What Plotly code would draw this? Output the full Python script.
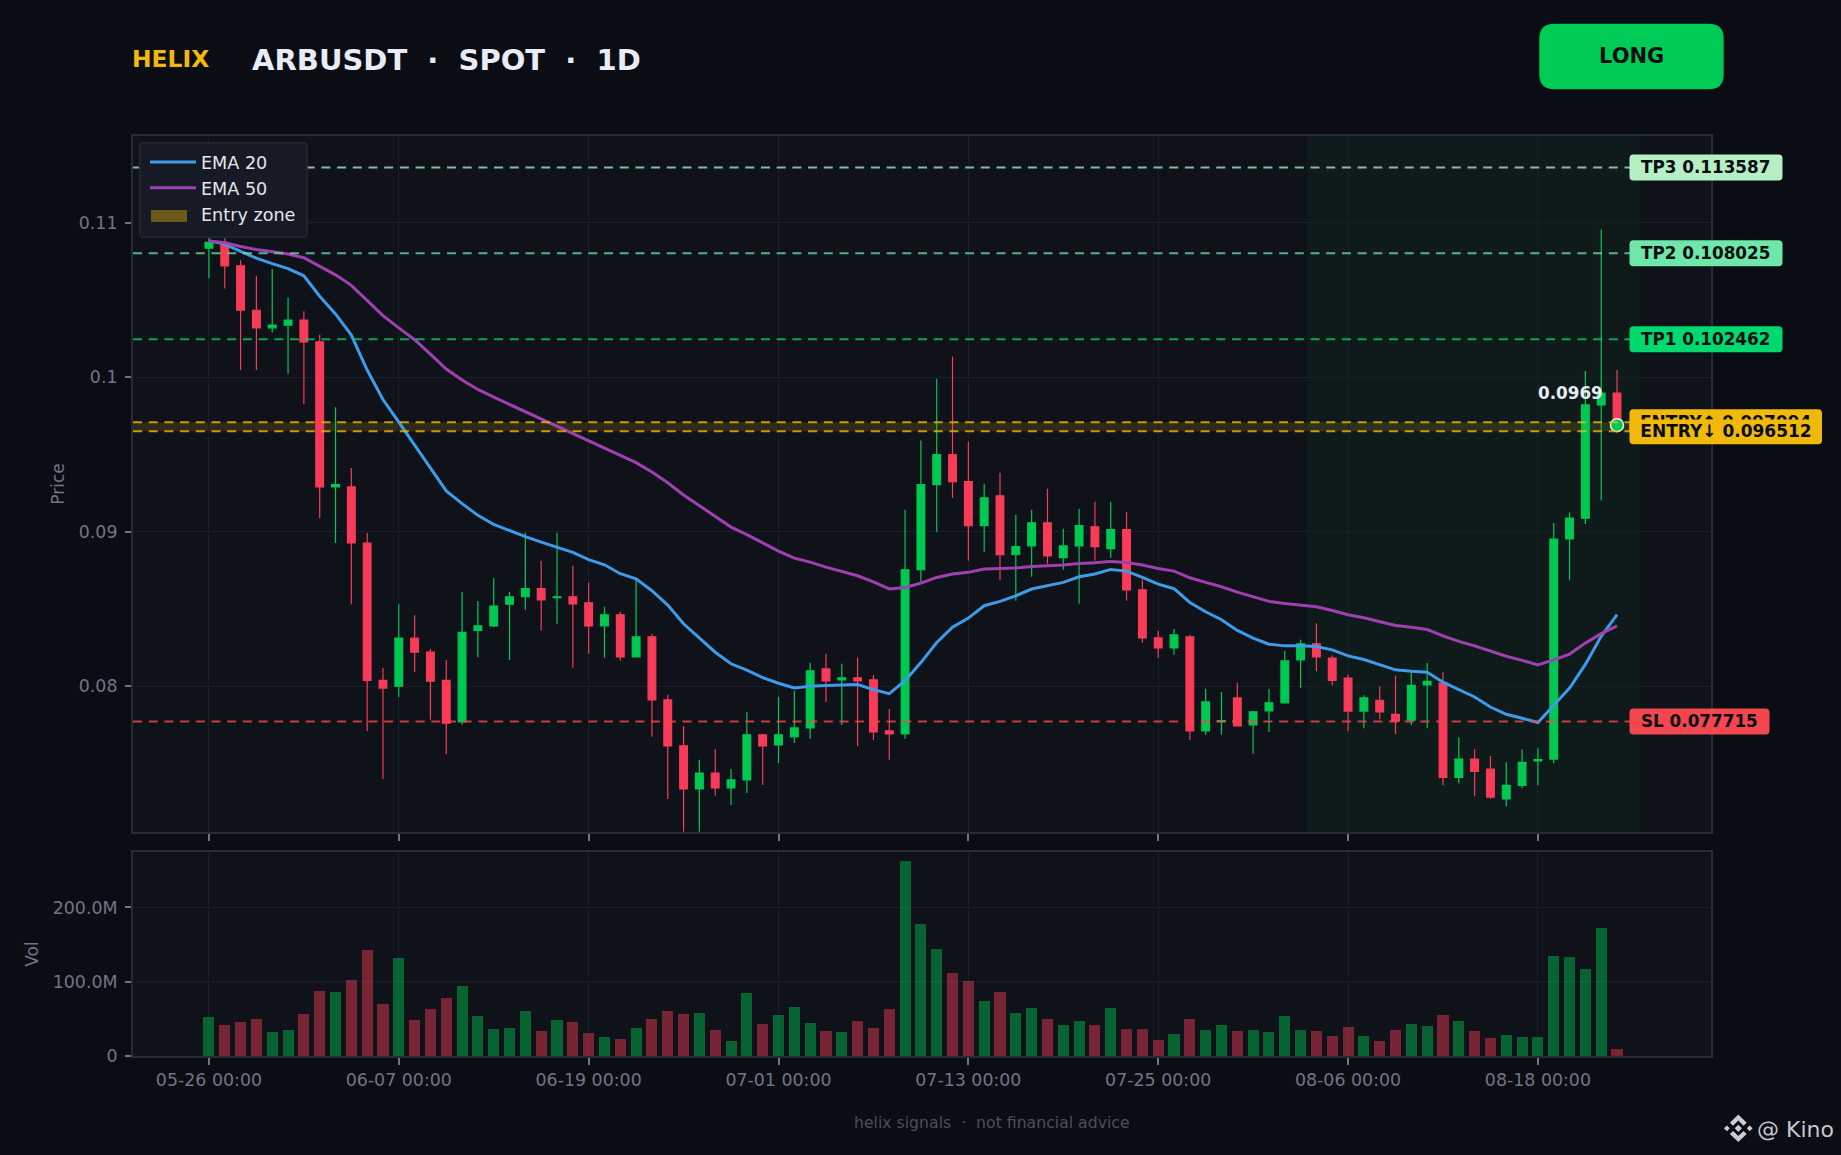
import pandas as pd
import plotly.graph_objects as go

W, H = 1841, 1155
ML, MR, MT, MB = 133, 130, 136, 99
PRICE_RANGE = [0.07056, 0.11562]
VOL_MAX = 274.6e6
PRICE_BOTTOM_PX, VOL_TOP_PX = 832, 852

dates = pd.date_range("2025-05-26", periods=90, freq="D")

opens = [.10836,.10874,.10721,.10434,.1032,.10337,.1037,.10229,.0929,.0929,.08927,.08038,.08,.08311,.0822,.08038,.07768,.08361,.0839,.08531,
 .08579,.08631,.08574,.08579,.0854,.08391,.08462,.0819,.0832,.07911,.07613,.07335,.07438,.07341,.07393,.07685,.0762,.07672,.0773,.08112,
 .08041,.08054,.08041,.07711,.07691,.08754,.09305,.09499,.09324,.09039,.09233,.08851,.08909,.09058,.08832,.08909,.09032,.0889,.09013,.08624,
 .08313,.08248,.0832,.07711,.07771,.07924,.0775,.0784,.07892,.08171,.08274,.08182,.08053,.07839,.07909,.07818,.0778,.08009,.0802,.0741,
 .07528,.07463,.0727,.07358,.07516,.07528,.08953,.09088,.09821,.09897]
closes = [.10874,.10721,.10434,.1032,.10337,.1037,.10229,.0929,.09305,.08927,.08038,.07988,.08311,.0822,.08032,.0776,.08349,.0839,.08519,.08578,
 .08631,.08559,.08579,.08533,.08391,.08462,.0819,.0832,.07911,.07613,.07335,.07438,.07341,.07393,.07685,.07613,.07685,.0773,.08099,.08035,
 .08054,.08035,.07704,.07691,.08754,.09305,.09499,.09324,.09039,.0922,.08851,.08903,.09058,.08844,.08909,.09039,.08903,.09013,.08624,.08313,
 .08248,.08333,.07711,.07898,.07778,.07743,.07834,.07892,.08164,.08274,.0819,.08038,.07839,.07924,.07833,.07774,.08006,.08032,.0741,.07528,
 .07449,.07282,.07358,.07507,.07525,.08953,.09088,.09821,.09897,.0969]
highs = [.1131,.1090,.10757,.10657,.10701,.10516,.10428,.10276,.09806,.09413,.08991,.08117,.08531,.0846,.0824,.0817,.0861,.08551,.08701,.0861,
 .08994,.08812,.08994,.0878,.0867,.08514,.08482,.08695,.08339,.07944,.07743,.07523,.07594,.07464,.07834,.07691,.07931,.0797,.08151,.0821,
 .08145,.08184,.08073,.07853,.09143,.0959,.09991,.10134,.09583,.09311,.09382,.0911,.09143,.09279,.0902,.09149,.09194,.09194,.0913,.08689,
 .08359,.08371,.08333,.07983,.07963,.08022,.0784,.07983,.08229,.083,.08408,.08199,.08076,.07941,.08,.0807,.08088,.0815,.08091,.07669,
 .07592,.07548,.07507,.07592,.07598,.09056,.09126,.10041,.10956,.10047]
lows = [.1064,.10575,.10047,.10047,.1029,.10023,.09827,.09088,.08927,.08531,.0771,.07399,.0793,.08091,.07783,.0756,.0775,.08188,.08381,.0817,
 .08495,.08359,.08404,.08119,.0821,.08184,.08164,.0819,.07672,.0727,.07058,.07058,.0729,.07231,.07309,.07361,.07503,.07633,.07659,.07898,
 .07749,.07613,.07652,.07523,.07659,.08676,.08996,.0922,.08812,.0887,.08689,.08553,.08708,.08793,.08754,.08533,.08812,.08832,.08553,.08281,
 .08184,.08203,.07652,.07685,.07685,.07743,.07562,.07704,.07892,.07989,.08097,.08006,.0771,.07727,.07786,.07689,.0775,.07727,.07358,.07372,
 .07287,.0727,.07223,.0734,.07358,.07501,.08686,.0905,.09202,.0969]
volumes_m = [52,41.5,46,49.5,32,34.7,56,87,86,102,143,70,132,48,63,78,94,54,36,37.4,
 60,33,48,45.5,30.6,25,22.5,37.4,49.5,60,56,57.7,34.7,19.8,84.7,42.8,55,65.8,44,33,
 32,46.8,37.4,63,263,178,144,112,101,74,86,57.7,64.4,49.5,41.4,46.8,41.4,64.4,36,36,
 21,29,49.5,34.7,41.4,33,34.7,32,53.6,34.7,33,26.6,38.7,26.6,19.8,34.7,42.8,40,55,46.8,
 33,23.9,28,25,25,134.7,133,117,172.5,9]
ema20 = [.10883,.10862,.10815,.10771,.10736,.10704,.10657,.10525,.1041,.10273,.10047,.09856,.0971,.09563,.09416,.09264,.09182,.09106,.09047,.09006,
 .08968,.08933,.08901,.08866,.08819,.08786,.08728,.08695,.08618,.08525,.08404,.08311,.0822,.08145,.08104,.08056,.08019,.07989,.08,.08004,
 .08009,.08011,.07978,.07952,.08035,.08153,.08283,.08382,.08441,.08521,.08549,.08585,.08629,.0865,.08672,.08708,.08726,.08756,.08745,.08704,
 .08661,.08631,.08542,.08482,.0843,.08361,.08311,.08272,.08261,.08261,.08257,.08235,.08196,.08173,.08141,.08106,.08097,.08091,.08026,.07977,
 .0793,.07865,.07818,.07792,.07765,.07877,.07988,.08141,.08323,.08463]
ema50 = [.10883,.10871,.10847,.10827,.10812,.10798,.10774,.10716,.10663,.10595,.10499,.10399,.1032,.10243,.1015,.10053,.09982,.09921,.09871,.09824,
 .09775,.0973,.09678,.09635,.09585,.09542,.0949,.09447,.09387,.09317,.09238,.09168,.09097,.0903,.08981,.08927,.08875,.08829,.08803,.08771,
 .08743,.08715,.08676,.0863,.08639,.08667,.08704,.08726,.08737,.08758,.08762,.08765,.08775,.0878,.08784,.08795,.08799,.08808,.08801,.08784,
 .08762,.08745,.08702,.08672,.08644,.08609,.08577,.08549,.08536,.08527,.08514,.0849,.08463,.08443,.08416,.08393,.08381,.08367,.08326,.0829,
 .08261,.08226,.08194,.08167,.08138,.0817,.08208,.08279,.0834,.0839]

tick_dates = ["2025-05-26","2025-06-07","2025-06-19","2025-07-01","2025-07-13","2025-07-25","2025-08-06","2025-08-18"]
tick_labels = ["05-26 00:00","06-07 00:00","06-19 00:00","07-01 00:00","07-13 00:00","07-25 00:00","08-06 00:00","08-18 00:00"]
x_range = ["2025-05-21 04:48","2025-08-28 22:34"]
zone_x = ["2025-08-03 09:36","2025-08-24 12:00"]
price_ticks = [0.08, 0.09, 0.10, 0.11]
price_tick_text = ["0.08","0.09","0.1","0.11"]
vol_ticks = [0, 100e6, 200e6]
vol_tick_text = ["0","100.0M","200.0M"]

entry_low, entry_high = 0.096512, 0.097094
levels = [
    ("TP3 0.113587", 0.113587, "#b7efc5", "rgba(183,239,197,0.75)", 153),
    ("TP2 0.108025", 0.108025, "#6ee7a8", "rgba(110,231,168,0.75)", 153),
    ("TP1 0.102462", 0.102462, "#00d96e", "rgba(0,217,110,0.75)", 153),
    ("SL 0.077715", 0.077715, "#f2474f", "rgba(242,71,79,0.8)", 140),
]
GOLD = "#f0b90b"; BG = "#0a0d13"; PLOT = "#0f1218"; GRID = "#1a1e2b"; FRAME = "#262b38"
GREEN = "#00c853"; RED = "#f73b58"; MUTED = "#6f7685"

def fx(px): return (px - ML) / (W - ML - MR)
def fy(py): return 1 - (py - MT) / (H - MT - MB)
def price_py(p):
    top, bot = MT, PRICE_BOTTOM_PX
    return bot - (p - PRICE_RANGE[0]) / (PRICE_RANGE[1] - PRICE_RANGE[0]) * (bot - top)
def rounded(x0, y0, x1, y1, r):
    pts = [("M",x0+r,y0),("L",x1-r,y0),("Q",x1,y0,x1,y0+r),("L",x1,y1-r),("Q",x1,y1,x1-r,y1),
           ("L",x0+r,y1),("Q",x0,y1,x0,y1-r),("L",x0,y0+r),("Q",x0,y0,x0+r,y0)]
    s = ""
    for p in pts:
        s += p[0] + " ".join(f"{(fx(p[i]) if i%2 else fy(p[i])):.6f}" for i in range(1,len(p))) + " "
    return s + "Z"
def poly(points, cx, cy):
    return "M" + " L".join(f"{fx(cx+a):.6f} {fy(cy+b):.6f}" for a, b in points) + " Z"
def paper_shape(path, fill, **kw):
    return dict(type="path", xref="paper", yref="paper", path=path, fillcolor=fill, line=dict(width=0), layer="above", **kw)

fig = go.Figure()
fig.add_trace(go.Candlestick(x=dates, open=opens, high=highs, low=lows, close=closes, showlegend=False,
    increasing=dict(line=dict(color=GREEN, width=1.2), fillcolor=GREEN),
    decreasing=dict(line=dict(color=RED, width=1.2), fillcolor=RED),
    whiskerwidth=0, xaxis="x", yaxis="y", hoverinfo="skip"))
fig.add_trace(go.Scatter(x=dates, y=ema20, mode="lines", name="EMA 20", line=dict(color="#3d9be9", width=3), xaxis="x", yaxis="y"))
fig.add_trace(go.Scatter(x=dates, y=ema50, mode="lines", name="EMA 50", line=dict(color="#a040b0", width=3), xaxis="x", yaxis="y"))
fig.add_trace(go.Scatter(x=[dates[0], dates[0]], y=[None, None], mode="lines", fill="toself", name="Entry zone",
    line=dict(width=0), fillcolor="rgba(240,185,11,0)", xaxis="x", yaxis="y"))
vol_colors = ["rgba(0,200,83,0.45)" if c >= o else "rgba(247,59,88,0.45)" for o, c in zip(opens, closes)]
fig.add_trace(go.Bar(x=dates, y=[v * 1e6 for v in volumes_m], marker=dict(color=vol_colors, line=dict(width=0)),
    width=0.7 * 86400000, showlegend=False, xaxis="x2", yaxis="y2", hoverinfo="skip"))
fig.add_trace(go.Scatter(x=[dates[-1]], y=[closes[-1]], mode="markers", showlegend=False,
    marker=dict(size=13, color=GREEN, line=dict(color="#e8ecf4", width=1.5)), xaxis="x", yaxis="y"))

shapes = []
shapes.append(dict(type="rect", xref="x", yref="y", x0=zone_x[0], x1=zone_x[1], y0=PRICE_RANGE[0], y1=PRICE_RANGE[1],
                   fillcolor="rgba(0,200,83,0.05)", line=dict(width=0), layer="below"))
shapes.append(dict(type="rect", xref="x domain", yref="y", x0=0, x1=1, y0=entry_low, y1=entry_high,
                   fillcolor="rgba(240,185,11,0.15)", line=dict(width=0), layer="below"))
DASH = "9px,6.7px"
for lv in (entry_high, entry_low):
    shapes.append(dict(type="line", xref="x domain", yref="y", x0=0, x1=1, y0=lv, y1=lv,
                       line=dict(color="rgba(240,185,11,0.8)", width=2, dash=DASH), layer="above"))
for _, lv, _, lc, _ in levels:
    shapes.append(dict(type="line", xref="x domain", yref="y", x0=0, x1=1, y0=lv, y1=lv,
                       line=dict(color=lc, width=2, dash=DASH), layer="above"))

annos = []
TXT = "#0a0d13"
LABEL_X = 1629.5
for text, lv, col, _, w in levels:
    c = price_py(lv)
    shapes.append(paper_shape(rounded(LABEL_X, c - 13, LABEL_X + w, c + 13, 4), col))
    annos.append(dict(xref="paper", yref="y", x=fx(LABEL_X + 9.5), y=lv, xanchor="left", yanchor="middle", text=f"<b>{text}</b>",
                      showarrow=False, font=dict(size=16.8, color=TXT, family="DejaVu Sans")))
cu, cl = price_py(entry_high), price_py(entry_low)
shapes.append(paper_shape(rounded(LABEL_X, cu - 13, 1822, cu + 13, 4), GOLD))
shapes.append(paper_shape(rounded(LABEL_X, cl - 13, 1822, cl + 13, 4), GOLD))
annos.append(dict(xref="paper", yref="y", x=fx(1725.5), y=entry_high, xanchor="center", yanchor="middle", text="<b>ENTRY↑ 0.097094</b>",
                  showarrow=False, font=dict(size=17, color=TXT, family="DejaVu Sans")))
annos.append(dict(xref="paper", yref="y", x=fx(1725.5), y=entry_low, xanchor="center", yanchor="middle", text="<b>ENTRY↓ 0.096512</b>",
                  showarrow=False, font=dict(size=17, color=TXT, family="DejaVu Sans"), bgcolor=GOLD, borderpad=1, width=186, align="center"))
annos.append(dict(xref="x", yref="y", x=dates[-1], y=closes[-1], xshift=-47, yshift=32, text="<b>0.0969</b>", showarrow=False,
                  font=dict(size=16.8, color="#e8ecf4", family="DejaVu Sans")))

def px_text(text, x, y, size, color, anchor="left", bold=False):
    return dict(xref="paper", yref="paper", x=fx(x), y=fy(y), xanchor=anchor, yanchor="middle",
                text=f"<b>{text}</b>" if bold else text, showarrow=False, font=dict(size=size, color=color, family="DejaVu Sans"))

annos.append(px_text("HELIX", 129.5, 59, 23.4, GOLD, bold=True))
annos.append(px_text("ARBUSDT  ·  SPOT  ·  1D", 250, 60, 29, "#e8ecf4", bold=True))
shapes.append(paper_shape(rounded(1539.3, 23.7, 1723.7, 89.3, 15), "#00cc55"))
annos.append(px_text("LONG", 1631.7, 56, 21, TXT, anchor="center", bold=True))
annos.append(px_text("helix signals  ·  not financial advice", 992, 1122, 15.7, "#4b505c", anchor="center"))
annos.append(px_text("@ Kino", 1755, 1129, 22, "#c3c7cf"))

# watermark logo
LOGO = "#c9ced6"; cx, cy = 1738.3, 1128.3
diamond = lambda a, h: [(a - h, 0), (a, -h), (a + h, 0), (a, h)]
for pts in (diamond(0, 3.6), diamond(-11.4, 2.9), diamond(11.4, 2.9),
            [(0,-13.8),(8.4,-5.6),(5.2,-2.6),(0,-7.8),(-5.2,-2.6),(-8.4,-5.6)],
            [(0,13.8),(8.4,5.6),(5.2,2.6),(0,7.8),(-5.2,2.6),(-8.4,5.6)]):
    shapes.append(paper_shape(poly(pts, cx, cy), LOGO))

# legend panel and the Entry zone swatch
shapes.append(paper_shape(rounded(139.7, 142.7, 307, 237.3, 4), "#161a24"))
shapes.append(dict(type="path", xref="paper", yref="paper", path=rounded(139.7, 142.7, 307, 237.3, 4),
                   fillcolor="rgba(0,0,0,0)", line=dict(color="#232835", width=1.5), layer="above"))
shapes.append(paper_shape(rounded(151, 210, 187, 222, 0.5), "#6b5a1c"))

plot_h = H - MT - MB
price_dom = [(H - MB - PRICE_BOTTOM_PX) / plot_h, 1]
vol_dom = [0, (H - MB - VOL_TOP_PX) / plot_h]
tickfont = dict(size=17.4, color=MUTED, family="DejaVu Sans")
xcommon = dict(type="date", range=x_range, tickvals=tick_dates, ticktext=tick_labels, showgrid=True, gridcolor=GRID, gridwidth=1.3,
               zeroline=False, showline=True, linecolor=FRAME, linewidth=2, mirror=True, ticks="outside", ticklen=7, tickwidth=1.5,
               tickcolor=MUTED, tickfont=tickfont, rangeslider=dict(visible=False))
ycommon = dict(showgrid=True, gridcolor=GRID, gridwidth=1.3, zeroline=False, showline=True, linecolor=FRAME, linewidth=2, mirror=True,
               ticks="outside", ticklen=6, tickwidth=1.5, tickcolor=MUTED, tickfont=tickfont, ticklabelstandoff=4)
fig.update_layout(
    width=W, height=H, margin=dict(l=ML, r=MR, t=MT, b=MB, autoexpand=False),
    paper_bgcolor=BG, plot_bgcolor=PLOT, font=dict(family="DejaVu Sans", color=MUTED), hovermode=False, bargap=0,
    xaxis=dict(domain=[0, 1], anchor="y", showticklabels=False, **xcommon),
    xaxis2=dict(domain=[0, 1], anchor="y2", matches="x", showticklabels=True, **xcommon),
    yaxis=dict(domain=price_dom, range=PRICE_RANGE, tickvals=price_ticks, ticktext=price_tick_text,
               title=dict(text="Price", standoff=10, font=dict(size=17, color=MUTED)), **ycommon),
    yaxis2=dict(domain=vol_dom, range=[0, VOL_MAX], tickvals=vol_ticks, ticktext=vol_tick_text,
                title=dict(text="Vol", standoff=10, font=dict(size=17, color=MUTED)), **ycommon),
    legend=dict(x=fx(145), y=fy(144), xanchor="left", yanchor="top", bgcolor="rgba(0,0,0,0)", borderwidth=0, itemwidth=46,
                font=dict(size=17.6, color="#e3e6ec", family="DejaVu Sans")),
    shapes=shapes, annotations=annos,
)
fig.write_html("out.html", config=dict(displayModeBar=False),
               post_script="document.body.style.margin='0';document.body.style.background='#0a0d13';")
